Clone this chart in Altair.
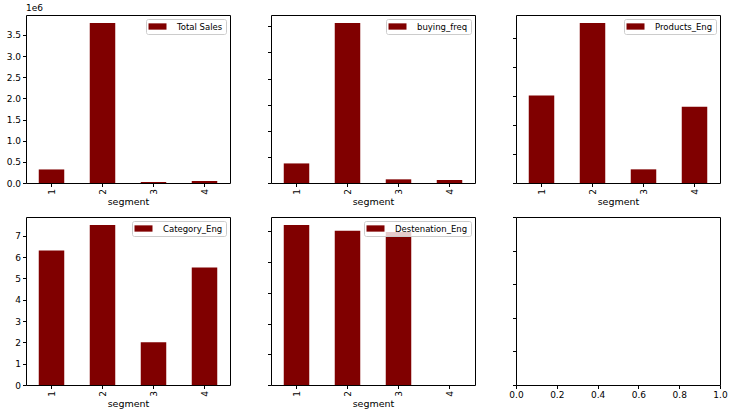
import altair as alt
import pandas as pd

# Per-segment aggregates for each customer feature
segments = ["1", "2", "3", "4"]
total_sales = [320000, 3780000, 24000, 47000]
buying_freq = [750, 6130, 140, 115]
products_eng = [3.01, 5.51, 0.47, 2.63]
category_eng = [6.31, 7.50, 2.00, 5.51]
destenation_eng = [5.21, 5.02, 4.98, 0.0]

MAROON = "#800000"
FONT = "DejaVu Sans"
W, H = 204, 168
# wide, flat legend swatch (about 18 x 6 px at symbolSize 81)
BAR_PATH = "M-2,-0.7L2,-0.7L2,0.7L-2,0.7Z"


def panel(name, values, ticks, show_labels=True, label_expr=None):
    df = pd.DataFrame({"segment": segments, "value": values, "series": name})
    top = max(values) * 1.05
    yaxis_kw = dict(values=ticks, labels=show_labels, title=None, grid=False,
                    domain=False, tickColor="black", tickSize=3.5,
                    labelFontSize=9, labelPadding=2)
    if label_expr:
        yaxis_kw["labelExpr"] = label_expr
    return alt.Chart(df).mark_bar().encode(
        x=alt.X("segment:N", sort=segments,
                scale=alt.Scale(paddingInner=0.5, paddingOuter=0.25),
                axis=alt.Axis(title="segment", labelAngle=270, domain=False,
                              tickColor="black", tickSize=3.5, bandPosition=0.5,
                              labelFontSize=9, titleFontSize=9.5,
                              titleFontWeight="normal", titlePadding=2)),
        y=alt.Y("value:Q", scale=alt.Scale(domain=[0, top], nice=False),
                axis=alt.Axis(**yaxis_kw)),
        color=alt.Color("series:N",
                        scale=alt.Scale(range=[MAROON]),
                        legend=alt.Legend(title=None, orient="top-right", offset=4,
                                          symbolType=BAR_PATH, symbolSize=81,
                                          symbolOffset=4,
                                          symbolStrokeWidth=0, labelFontSize=8.5,
                                          labelFont=FONT, padding=3,
                                          strokeColor="#cccccc",
                                          fillColor="rgba(255,255,255,0.8)",
                                          cornerRadius=2, labelOffset=15)),
    ).properties(width=W, height=H)


p1 = panel("Total Sales", total_sales,
           [0, 500000, 1000000, 1500000, 2000000, 2500000, 3000000, 3500000],
           label_expr="format(datum.value / 1000000, '.1f')")
offset_label = alt.Chart(pd.DataFrame({"t": ["1e6"]})).mark_text(
    align="left", baseline="bottom", font=FONT, fontSize=9, color="black"
).encode(x=alt.value(0), y=alt.value(-2), text="t:N")
p1 = alt.layer(p1, offset_label)

p2 = panel("buying_freq", buying_freq, [0, 1000, 2000, 3000, 4000, 5000, 6000], False)
p3 = panel("Products_Eng", products_eng, [0, 1, 2, 3, 4, 5], False)
p4 = panel("Category_Eng", category_eng, [0, 1, 2, 3, 4, 5, 6, 7],
           label_expr="format(datum.value, 'd')")
p5 = panel("Destenation_Eng", destenation_eng, [0, 1, 2, 3, 4, 5], False)

# Empty axes in the last grid slot
empty_ticks = [0, 0.2, 0.4, 0.6, 0.8, 1.0]
p6 = alt.Chart(pd.DataFrame({"x": [0.5], "y": [0.5]})).mark_point(opacity=0).encode(
    x=alt.X("x:Q", scale=alt.Scale(domain=[0, 1], nice=False),
            axis=alt.Axis(values=empty_ticks, format=".1f", title=None, grid=False,
                          domain=False, tickColor="black", tickSize=3.5,
                          labelFontSize=9, labelFlush=False)),
    y=alt.Y("y:Q", scale=alt.Scale(domain=[0, 1], nice=False),
            axis=alt.Axis(values=empty_ticks, labels=False, title=None, grid=False,
                          domain=False, tickColor="black", tickSize=3.5)),
).properties(width=W, height=H)

chart = alt.concat(
    p1, p2, p3, p4, p5, p6, columns=3,
    spacing=alt.RowColnumber(column=41, row=34), bounds="flush",
).resolve_scale(
    x="independent", y="independent", color="independent"
).resolve_legend(color="independent").resolve_axis(
    x="independent", y="independent"
).properties(
    padding={"left": 5, "top": 3, "right": 5, "bottom": 5}
).configure(
    font=FONT
).configure_view(
    stroke="black", strokeWidth=1
).configure_axis(
    labelFont=FONT, titleFont=FONT, labelColor="black", titleColor="black"
)

chart.save("out.html", embed_options={"renderer": "svg", "actions": False})
